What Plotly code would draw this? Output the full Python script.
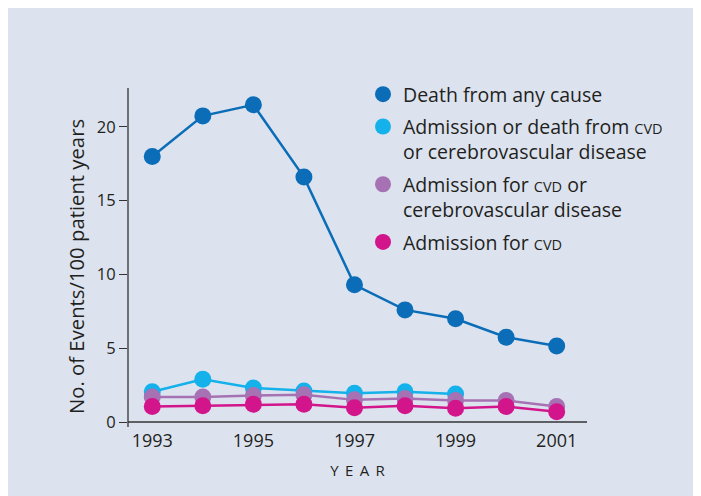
import plotly.graph_objects as go

# ---- data ----
years = [1993, 1994, 1995, 1996, 1997, 1998, 1999, 2000, 2001]
death_any_cause = [18.0, 20.75, 21.5, 16.6, 9.3, 7.6, 7.0, 5.75, 5.15]
years_adm_or_death = [1993, 1994, 1995, 1996, 1997, 1998, 1999]
adm_or_death_cvd = [2.05, 2.9, 2.3, 2.1, 1.95, 2.05, 1.9]
adm_cvd_or_cereb = [1.7, 1.7, 1.8, 1.85, 1.5, 1.6, 1.45, 1.45, 1.05]
adm_cvd = [1.05, 1.1, 1.2, 1.2, 0.97, 1.1, 0.93, 1.05, 0.7]

x_tick_vals = [1993, 1995, 1997, 1999, 2001]
y_tick_vals = [0, 5, 10, 15, 20]

SC = '<span style="font-size:14.5px">CVD</span>'
names = [
    "Death from any cause",
    "Admission or death from " + SC + "<br>or cerebrovascular disease",
    "Admission for " + SC + " or<br>cerebrovascular disease",
    "Admission for " + SC,
]
colors = ["#0b6db7", "#14b1ea", "#a672b3", "#d3158c"]
series = [
    (years, death_any_cause),
    (years_adm_or_death, adm_or_death_cvd),
    (years, adm_cvd_or_cereb),
    (years, adm_cvd),
]

FONT = "Open Sans"
TXT = "#231f20"
BG = "#dce3ef"

W, H = 730, 510
ML, MT = 120, 80
PLOT_RIGHT, PLOT_BOTTOM = 579, 414
MR, MB = W - PLOT_RIGHT, H - PLOT_BOTTOM
PW, PH = W - ML - MR, H - MT - MB

fig = go.Figure()
for (xs, ys), c in zip(series, colors):
    fig.add_trace(go.Scatter(
        x=xs, y=ys, mode="lines+markers",
        line=dict(color=c, width=2.5),
        marker=dict(color=c, size=17),
        showlegend=False, hoverinfo="x+y",
    ))
for i, (n, c) in enumerate(zip(names, colors)):
    fig.add_trace(go.Scatter(
        x=[None], y=[None], mode="markers", name=n,
        marker=dict(color=c, size=16), legendgroup=f"g{i}",
    ))

def px_x(p):
    return (p - ML) / PW

def px_y(p):
    return (PLOT_BOTTOM - p) / PH

shapes = [
    # y axis line (extends slightly below x axis)
    dict(type="line", xref="paper", yref="paper",
         x0=0, x1=0, y0=px_y(419), y1=1,
         line=dict(color="#333333", width=1.3)),
    # x axis line
    dict(type="line", xref="paper", yref="paper",
         x0=0, x1=1, y0=0, y1=0,
         line=dict(color="#333333", width=1.3)),
]

annotations = [
    dict(text="No. of Events/100 patient years", textangle=-90,
         xref="paper", yref="paper", x=px_x(68), y=px_y(259),
         xanchor="center", yanchor="middle", showarrow=False,
         font=dict(size=20.3, color=TXT, family=FONT)),
]

fig.update_layout(
    width=W, height=H,
    margin=dict(l=ML, r=MR, t=MT, b=MB),
    paper_bgcolor=BG, plot_bgcolor="rgba(0,0,0,0)",
    font=dict(family=FONT, color=TXT),
    shapes=shapes,
    annotations=annotations,
    showlegend=True,
    legend=dict(
        x=px_x(355), y=px_y(67), xanchor="left", yanchor="top",
        bgcolor="rgba(0,0,0,0)", font=dict(size=19.5, color=TXT),
        tracegroupgap=4, valign="top", itemsizing="trace",
    ),
    xaxis=dict(
        range=[1992.52, 2001.6], tickvals=x_tick_vals,
        showgrid=False, zeroline=False, showline=False,
        ticks="", tickfont=dict(size=18, color=TXT),
        ticklabelstandoff=6,
        title=dict(text="Y\u2009 E\u2009 A\u2009 R", font=dict(size=15, color=TXT), standoff=14),
        fixedrange=True,
    ),
    yaxis=dict(
        range=[0, 22.64], tickvals=y_tick_vals,
        showgrid=False, zeroline=False, showline=False,
        ticks="outside", ticklen=8, tickcolor="#333333", tickwidth=1.3,
        tickfont=dict(size=16.5, color=TXT),
        fixedrange=True,
    ),
)

fig.write_html("out.html", post_script="document.body.style.overflow='hidden';")
